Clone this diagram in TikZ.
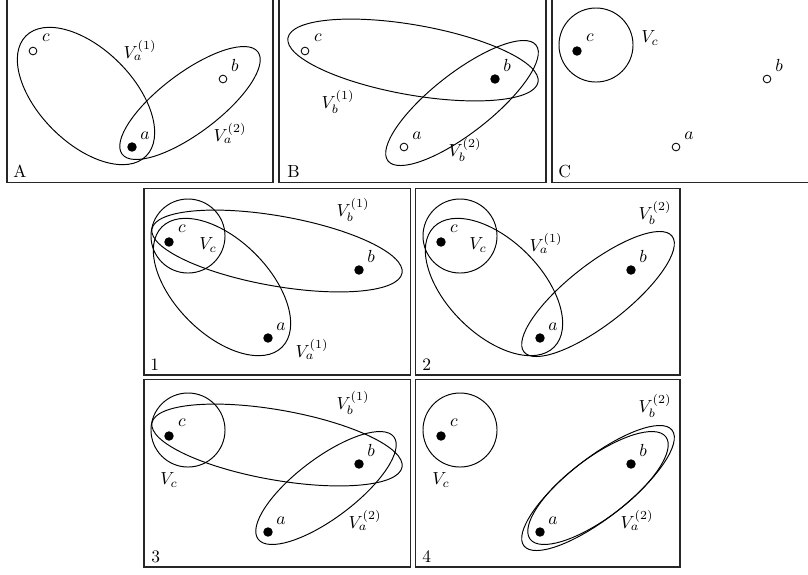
\documentclass[tikz,border=0pt]{standalone}
\usetikzlibrary{shapes.geometric}
\begin{document}
\begin{tikzpicture}[x=0.5714pt,y=-0.5714pt,
  frame/.style={draw=black!85, line width=0.62pt},
  hset/.style={draw, ellipse, line width=0.55pt, inner sep=0pt},
  vaone/.style={hset, minimum width=97.1pt, minimum height=53.7pt, rotate=-45},
  vatwo/.style={hset, minimum width=97.1pt, minimum height=34.3pt, rotate=37},
  vbone/.style={hset, minimum width=145.1pt, minimum height=40pt, rotate=-10},
  vbtwo/.style={hset, minimum width=107.4pt, minimum height=34.3pt, rotate=38},
  vcset/.style={draw, circle, line width=0.55pt, inner sep=0pt, minimum size=42.3pt},
  fdot/.style={circle, fill=black, inner sep=0pt, minimum size=5.4pt},
  odot/.style={circle, draw, fill=white, line width=0.5pt, inner sep=0pt, minimum size=4.4pt},
  lbl/.style={inner sep=0pt},
  tag/.style={inner sep=0pt, anchor=base west}]
\useasboundingbox (0,0) rectangle (808,574);
% frames
\draw[frame] (7,-4) rectangle (273,182.5);
\draw[frame] (279,-4) rectangle (546,182.5);
\draw[frame] (552,-4) rectangle (812,182.5);
\draw[frame] (144,188.5) rectangle (410.5,375);
\draw[frame] (415.5,188.5) rectangle (680,375);
\draw[frame] (144,379.5) rectangle (410.5,567);
\draw[frame] (415.5,379.5) rectangle (680,567);
\node[tag] (tA) at (13,177) {A};
\node[tag] (tB) at (287,177) {B};
\node[tag] (tC) at (558,177) {C};
\node[tag] (t1) at (150,370) {1};
\node[tag] (t2) at (422,370) {2};
\node[tag] (t3) at (151,562) {3};
\node[tag] (t4) at (422,562) {4};
% Panel A
\begin{scope}[shift={(0,0)}]
\node[vaone] (A-va1) at (86,96) {};
\node[vatwo] (A-va2) at (190,103) {};
\node[odot] (A-c) at (33,51) {};
\node[odot] (A-b) at (223,79) {};
\node[fdot] (A-a) at (132,147) {};
\node[lbl] (A-lc) at (46,38) {$c$};
\node[lbl] (A-lb) at (235,65) {$b$};
\node[lbl] (A-la) at (145,136) {$a$};
\node[lbl] (A-l1) at (140,50) {$V_a^{(1)}$};
\node[lbl] (A-l2) at (230,133) {$V_a^{(2)}$};
\end{scope}
% Panel B
\begin{scope}[shift={(272,0)}]
\node[vbone] (B-vb1) at (141,60) {};
\node[vbtwo] (B-vb2) at (190,103) {};
\node[odot] (B-c) at (33,51) {};
\node[fdot] (B-b) at (223,79) {};
\node[odot] (B-a) at (132,147) {};
\node[lbl] (B-lc) at (46,38) {$c$};
\node[lbl] (B-lb) at (235,65) {$b$};
\node[lbl] (B-la) at (145,136) {$a$};
\node[lbl] (B-l1) at (66,102) {$V_b^{(1)}$};
\node[lbl] (B-l2) at (193,150) {$V_b^{(2)}$};
\end{scope}
% Panel C
\begin{scope}[shift={(544,0)}]
\node[vcset] (C-vc) at (52,45) {};
\node[fdot] (C-c) at (33,51) {};
\node[odot] (C-b) at (223,79) {};
\node[odot] (C-a) at (132,147) {};
\node[lbl] (C-lc) at (46,38) {$c$};
\node[lbl] (C-lb) at (235,65) {$b$};
\node[lbl] (C-la) at (145,136) {$a$};
\node[lbl] (C-l1) at (106,38) {$V_c$};
\end{scope}
% Panel 1
\begin{scope}[shift={(136,191)}]
\node[vcset] (P1-vc) at (52,45) {};
\node[vbone] (P1-vb1) at (141,60) {};
\node[vaone] (P1-va1) at (86,96) {};
\node[fdot] (P1-c) at (33,51) {};
\node[fdot] (P1-b) at (223,79) {};
\node[fdot] (P1-a) at (132,147) {};
\node[lbl] (P1-lc) at (46,38) {$c$};
\node[lbl] (P1-lb) at (235,65) {$b$};
\node[lbl] (P1-la) at (145,136) {$a$};
\node[lbl] (P1-l0) at (72,54) {$V_c$};
\node[lbl] (P1-l1) at (217,19) {$V_b^{(1)}$};
\node[lbl] (P1-l2) at (176,158) {$V_a^{(1)}$};
\end{scope}
% Panel 2
\begin{scope}[shift={(408,191)}]
\node[vcset] (P2-vc) at (52,45) {};
\node[vaone] (P2-va1) at (86,96) {};
\node[vbtwo] (P2-vb2) at (190,103) {};
\node[fdot] (P2-c) at (33,51) {};
\node[fdot] (P2-b) at (223,79) {};
\node[fdot] (P2-a) at (132,147) {};
\node[lbl] (P2-lc) at (46,38) {$c$};
\node[lbl] (P2-lb) at (235,65) {$b$};
\node[lbl] (P2-la) at (145,136) {$a$};
\node[lbl] (P2-l0) at (70,54) {$V_c$};
\node[lbl] (P2-l1) at (138,52) {$V_a^{(1)}$};
\node[lbl] (P2-l2) at (247,22) {$V_b^{(2)}$};
\end{scope}
% Panel 3
\begin{scope}[shift={(136,385)}]
\node[vcset] (P3-vc) at (52,45) {};
\node[vbone] (P3-vb1) at (141,60) {};
\node[vatwo] (P3-va2) at (190,103) {};
\node[fdot] (P3-c) at (33,51) {};
\node[fdot] (P3-b) at (223,79) {};
\node[fdot] (P3-a) at (132,147) {};
\node[lbl] (P3-lc) at (46,38) {$c$};
\node[lbl] (P3-lb) at (235,65) {$b$};
\node[lbl] (P3-la) at (145,136) {$a$};
\node[lbl] (P3-l0) at (33,95) {$V_c$};
\node[lbl] (P3-l1) at (217,18) {$V_b^{(1)}$};
\node[lbl] (P3-l2) at (229,135) {$V_a^{(2)}$};
\end{scope}
% Panel 4
\begin{scope}[shift={(408,385)}]
\node[vcset] (P4-vc) at (52,45) {};
\node[vbtwo] (P4-vb2) at (190,103) {};
\node[vatwo] (P4-va2) at (190,103) {};
\node[fdot] (P4-c) at (33,51) {};
\node[fdot] (P4-b) at (223,79) {};
\node[fdot] (P4-a) at (132,147) {};
\node[lbl] (P4-lc) at (46,38) {$c$};
\node[lbl] (P4-lb) at (235,65) {$b$};
\node[lbl] (P4-la) at (145,136) {$a$};
\node[lbl] (P4-l0) at (33,95) {$V_c$};
\node[lbl] (P4-l1) at (247,21) {$V_b^{(2)}$};
\node[lbl] (P4-l2) at (229,135) {$V_a^{(2)}$};
\end{scope}
\end{tikzpicture}
\end{document}
